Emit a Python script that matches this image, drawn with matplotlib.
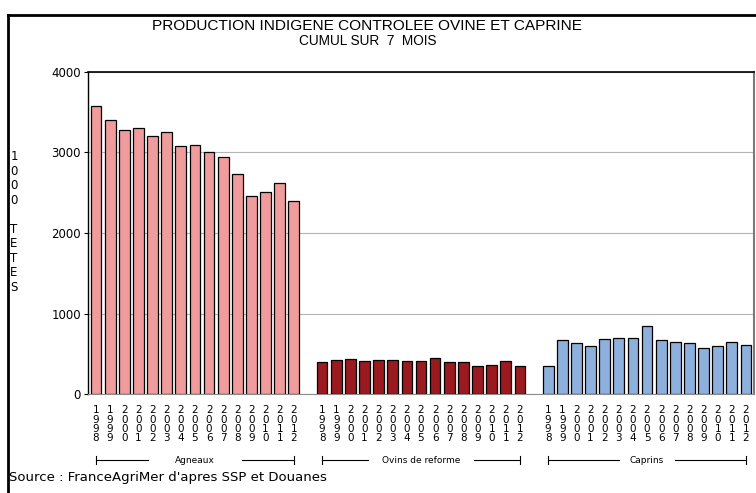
import numpy as np
import matplotlib
matplotlib.use("Agg")
import matplotlib.pyplot as plt
import matplotlib.transforms as mtransforms

# Data (thousand heads, 7-month cumulative).
years = ["1998", "1999", "2000", "2001", "2002", "2003", "2004", "2005",
         "2006", "2007", "2008", "2009", "2010", "2011", "2012"]
groups = ["Agneaux", "Ovins de reforme", "Caprins"]
agneaux = [3570, 3396, 3271, 3296, 3200, 3254, 3080, 3092, 3005, 2939,
           2736, 2457, 2512, 2615, 2391]
ovins_reforme = [404, 420, 436, 411, 420, 420, 411, 417, 445, 399,
                 399, 354, 366, 411, 357]
caprins = [349, 669, 640, 598, 681, 694, 697, 843, 677, 644,
           631, 569, 594, 644, 606]

series = [agneaux, ovins_reforme, caprins]
colors = ["#f09c9c", "#9b1a20", "#8eb0dc"]
bracket_gap = [3.3, 3.75, 2.0]   # half-gap in the bracket line around each group label

W, H = 756, 493
fig = plt.figure(figsize=(W / 100, H / 100), dpi=100)
plt.rcParams["font.family"] = ["DejaVu Sans"]

# Border round the figure
fig.add_artist(plt.Line2D([7.5 / W, 7.5 / W], [0, 1 - 14.5 / H], transform=fig.transFigure,
                          color="black", lw=2))
fig.add_artist(plt.Line2D([7.5 / W, 1], [1 - 14.5 / H, 1 - 14.5 / H], transform=fig.transFigure,
                          color="black", lw=2))

ax = fig.add_axes([88 / W, (H - 394.3) / H, (754 - 88) / W, (394.3 - 71.7) / H])

n = len(years)
positions = []
labels = []
for g, vals in enumerate(series):
    x = np.arange(n) + g * (n + 1)
    ax.bar(x, vals, width=0.76, color=colors[g], edgecolor="black", linewidth=0.9, zorder=3)
    positions.extend(x)
    labels.extend("\n".join(y) for y in years)

    # Bracket with the group name under the year labels
    trans = mtransforms.blended_transform_factory(ax.transData, ax.transAxes)
    yb = -0.204
    mid = (x[0] + x[-1]) / 2
    gap = bracket_gap[g]
    ax.plot([x[0], mid - gap], [yb, yb], color="black", lw=0.8, transform=trans, clip_on=False)
    ax.plot([mid + gap, x[-1]], [yb, yb], color="black", lw=0.8, transform=trans, clip_on=False)
    for xe in (x[0], x[-1]):
        ax.plot([xe, xe], [yb - 0.012, yb + 0.012], color="black", lw=0.8,
                transform=trans, clip_on=False)
    ax.text(mid, yb, groups[g], transform=trans, ha="center", va="center", fontsize=6.5)

ax.set_xlim(-0.57, 46.57)
ax.set_ylim(0, 4000)
ax.set_yticks([0, 1000, 2000, 3000, 4000])
ax.tick_params(axis="y", length=3, width=0.8, labelsize=8.5, pad=2)
ax.set_xticks(positions)
ax.set_xticklabels(labels, fontsize=7.5, linespacing=0.92)
ax.tick_params(axis="x", length=0, pad=8)

ax.grid(axis="y", color="#b4b4b4", lw=0.8, zorder=0)
ax.spines["bottom"].set_color("#8c8c8c")
ax.spines["right"].set_color("#7a7a7a")
ax.spines["right"].set_linewidth(1.5)
ax.spines["top"].set_linewidth(1.2)
ax.spines["left"].set_linewidth(1.0)

fig.text(367 / W, 1 - 26 / H, "PRODUCTION INDIGENE CONTROLEE OVINE ET CAPRINE",
         ha="center", va="center", fontsize=11.1, family="Liberation Sans")
fig.text(368 / W, 1 - 41 / H, "CUMUL SUR  7  MOIS", ha="center", va="center",
         fontsize=9.8, family="Liberation Sans")
fig.text(14 / W, 1 - 222 / H, "1\n0\n0\n0\n\nT\nE\nT\nE\nS", ha="center", va="center",
         fontsize=8.5, linespacing=1.15)
fig.text(9 / W, 1 - 477 / H, "Source : FranceAgriMer d'apres SSP et Douanes",
         ha="left", va="center", fontsize=9.5)

fig.savefig("out.png", dpi=100)
